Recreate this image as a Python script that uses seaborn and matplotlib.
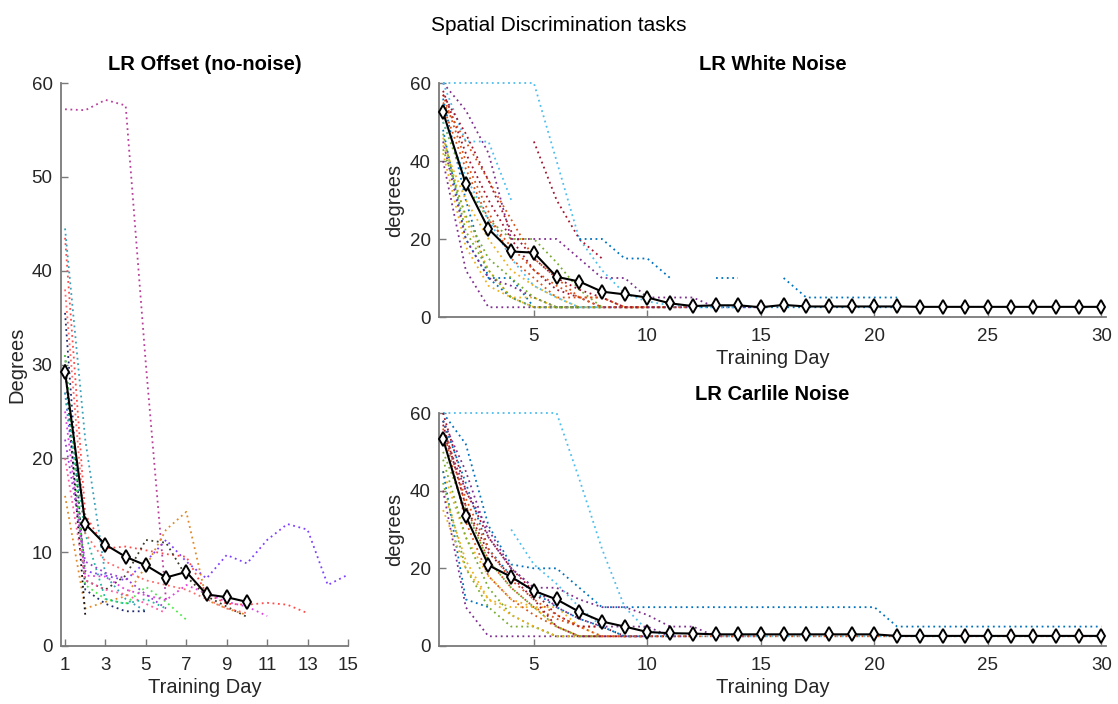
import numpy as np
import pandas as pd
import matplotlib
matplotlib.use("Agg")
import matplotlib.pyplot as plt
import seaborn as sns

nan = np.nan

# ---------------- LR Offset (no-noise) ----------------
offset_mean = [29.2, 13.0, 10.8, 9.5, 8.6, 7.3, 7.9, 5.5, 5.2, 4.7]
off_s01 = [57.2, 57.1, 58.2, 57.6, 30.0, 4.8]
off_s02 = [27.0, 8.0, 7.5, 7.0, 9.0, 11.3, 9.0, 7.2, 9.7, 8.8, 11.3, 13.0, 12.4, 6.5, 7.6]
off_s03 = [16.0, 4.0, 4.7, 5.3, 8.5, 12.4, 14.3, 4.9, 4.0, 3.3]
off_s04 = [43.5, 14.0, 10.4, 10.6, 10.2, 9.8, 9.5, 5.6, 4.5, 4.4, 4.6, 4.4, 3.5]
off_s05 = [44.5, 22.0, 7.5, 5.0, 3.7]
off_s06 = [35.5, 6.0, 4.5, 3.7, 3.7]
off_s07 = [31.0, 7.0, 6.0, 7.5, 11.3, 11.0, 7.4, 5.3, 4.2, 3.1]
off_s08 = [31.0, 6.5, 5.0, 4.5, 6.3, 4.7, 2.8]
off_s09 = [25.0, 7.5, 7.4, 6.0, 5.4, 4.9, 6.5, 5.6, 4.7, 4.2, 3.2]
off_s10 = [30.0, 3.3]
off_s11 = [20.0, 7.0, 6.0, 5.5, 4.5, 3.5]
off_s12 = [27.0, 12.0, 5.0, 4.5, 5.0, 4.0]
off_s13 = [38.0, 12.0, 9.0, 8.0, 7.0, 6.5, 6.0, 5.0, 4.0, 3.5]
off_s14 = [22.0, 9.0, 7.8, 7.2, 5.5, 4.0]
offset_subjects = [off_s01, off_s02, off_s03, off_s04, off_s05, off_s06, off_s07,
                   off_s08, off_s09, off_s10, off_s11, off_s12, off_s13, off_s14]
offset_colors = ["#b8409c", "#7f3fff", "#e08a2a", "#ff4a4a", "#3aa0b8", "#1f2a6e", "#3c3a28",
                 "#4ee84e", "#e040e0", "#111111", "#ff5aa0", "#20b8a0", "#ff6a6a", "#9a40d0"]

# ---------------- LR White Noise ----------------
white_mean = [52.5, 34.1, 22.6, 16.8, 16.5, 10.3, 9.1, 6.5, 5.8, 5.0, 3.5, 2.8, 3.0, 3.0, 2.5,
              3.1, 2.7, 2.7, 2.7, 2.7, 2.7, 2.6, 2.6, 2.6, 2.6, 2.6, 2.6, 2.6, 2.6, 2.6]
wn_s01 = [56, 30, 10, 10, 2.5, 2.5, 2.5, 2.5, 2.5, 2.5, 2.5, 2.5, 2.5, 2.5, 2.5, 2.5, 2.5, 2.5, 2.5, 2.5, 2.5]
wn_s02 = [57, 40, 27, 15, 10, 5, 5, 5, 2.5, 2.5, 2.5, 2.5]
wn_s03 = [46, 25, 12, 5, 5, 2.5, 2.5, 2.5, 2.5, 2.5]
wn_s04 = [60, 53, 42, 20, 20, 20, 15, 10, 10, 5, 5, 5, 2.5, 2.5, 2.5]
wn_s05 = [50, 34, 25, 20, 20, 14, 7, 2.5, 2.5, 2.5, 2.5]
wn_s06 = [60, 60, 60, 60, 60, 40, 20, 12, 6, 4, 3, 2.5, 2.5, 2.5]
wn_s07 = [58, 42, 30, 20, 12, 7, 5, 2.5, 2.5, 2.5]
wn_s08 = [48, 20, 10, 5, 2.5, 2.5, 2.5, 2.5]
wn_s09 = [55, 45, 35, 25, 15, 10, 5, 2.5, 2.5, 2.5, 2.5, 2.5]
wn_s10 = [42, 18, 8, 5, 2.5, 2.5, 2.5]
wn_s11 = [40, 12, 2.5, 2.5, 2.5, 2.5, 2.5, 2.5, 2.5, 2.5, 2.5, 2.5]
wn_s12 = [47, 22, 12, 5, 2.5, 2.5, 2.5, 2.5]
wn_s13 = [60, 45, 45, 30]
wn_s14 = [nan, nan, nan, nan, 45, 30, 20, 15]
wn_s15 = [nan, nan, nan, nan, nan, nan, 20, 20, 15, 15, 10, nan, 10, 10, nan, 10, 5, 5, 5, 5, 5]
wn_s16 = [54, 38, 25, 18, 12, 8, 5, 5, 2.5, 2.5]
wn_s17 = [44, 30, 20, 12, 8, 5, 2.5, 2.5]
wn_s18 = [45, 20, 10, 8, 5, 2.5, 2.5]
wn_s19 = [43, 26, 15, 10, 5, 2.5, 2.5]
wn_s20 = [50, 36, 25, 15, 8, 5, 2.5, 2.5]
wn_s21 = [57, 47, 35, 22, 15, 10, 7, 5, 2.5, 2.5, 2.5]
white_subjects = [wn_s01, wn_s02, wn_s03, wn_s04, wn_s05, wn_s06, wn_s07, wn_s08, wn_s09, wn_s10,
                  wn_s11, wn_s12, wn_s13, wn_s14, wn_s15, wn_s16, wn_s17, wn_s18, wn_s19, wn_s20, wn_s21]

# ---------------- LR Carlile Noise ----------------
carlile_mean = [53.3, 33.4, 20.8, 17.8, 14.2, 12.0, 8.8, 6.3, 5.0, 3.6, 3.3, 3.2, 3.0, 3.0, 3.0,
                3.0, 3.0, 3.0, 3.0, 3.0, 2.6, 2.6, 2.6, 2.6, 2.6, 2.6, 2.6, 2.6, 2.6, 2.6]
cn_s01 = [60, 52, 31, 21, 20, 20, 15, 10, 10, 10, 10, 10, 10, 10, 10, 10, 10, 10, 10, 10,
          5, 5, 5, 5, 5, 5, 5, 5, 5, 5]
cn_s02 = [58, 36, 22, 15, 10, 7, 5, 5, 2.5, 2.5, 2.5, 2.5]
cn_s03 = [45, 28, 18, 12, 10, 10, 5, 2.5, 2.5, 2.5]
cn_s04 = [58, 45, 28, 20, 15, 15, 12, 10, 10, 8, 5, 5, 2.5, 2.5, 2.5]
cn_s05 = [48, 28, 15, 8, 5, 2.5, 2.5, 2.5]
cn_s06 = [60, 60, 60, 60, 60, 60, 43, 25, 10, 4, 2.5, 2.5, 2.5, 2.5, 2.5, 2.5, 2.5, 2.5, 2.5, 2.5,
          2.5, 2.5, 2.5, 2.5, 2.5, 2.5, 2.5, 2.5, 2.5, 2.5]
cn_s07 = [60, 40, 28, 20, 14, 8, 5, 5, 2.5, 2.5, 2.5]
cn_s08 = [45, 12, 10]
cn_s09 = [56, 32, 18, 12, 8, 5, 2.5, 2.5, 2.5, 2.5]
cn_s10 = [40, 22, 12, 10, 10, 5, 2.5, 2.5]
cn_s11 = [40, 10, 2.5, 2.5, 2.5, 2.5, 2.5, 2.5, 2.5, 2.5]
cn_s12 = [42, 20, 10, 5, 5, 2.5, 2.5]
cn_s13 = [nan, nan, nan, 30, 21, 16, 10, 5, 2.5, 2.5]
cn_s14 = [57, 36, 24, 18, 12, 5, 2.5, 2.5, 2.5]
cn_s15 = [58, 42, 25, 18, 14, 10, 7, 5, 2.5, 2.5, 2.5]
cn_s16 = [55, 38, 25, 17, 12, 8, 5, 2.5, 2.5, 2.5, 2.5, 2.5, 2.5, 2.5, 2.5, 2.5, 2.5, 2.5, 2.5, 2.5,
          2.5, 2.5, 2.5, 2.5, 2.5, 2.5, 2.5, 2.5, 2.5, 2.5]
cn_s17 = [35, 20, 12, 8, 5, 2.5, 2.5]
cn_s18 = [55, 40, 30, 20, 15, 10, 7, 5, 5, 5, 2.5, 2.5]
cn_s19 = [50, 35, 22, 15, 10, 5, 2.5, 2.5]
carlile_subjects = [cn_s01, cn_s02, cn_s03, cn_s04, cn_s05, cn_s06, cn_s07, cn_s08, cn_s09, cn_s10,
                    cn_s11, cn_s12, cn_s13, cn_s14, cn_s15, cn_s16, cn_s17, cn_s18, cn_s19]

matlab_colors = ["#0072BD", "#D95319", "#EDB120", "#7E2F8E", "#77AC30", "#4DBEEE", "#A2142F"]

# ---------------- style ----------------
sns.set_style("ticks")
plt.rcParams["font.family"] = ["Liberation Sans", "DejaVu Sans"]
AX_GRAY = "#7a7a7a"
TXT = "#262626"

fig = plt.figure(figsize=(11.18, 7.04), dpi=100)
ax_l = fig.add_axes([61 / 1118, 58 / 704, 287 / 1118, 563 / 704])
ax_t = fig.add_axes([439 / 1118, 387 / 704, 667 / 1118, 234 / 704])
ax_b = fig.add_axes([439 / 1118, 58 / 704, 667 / 1118, 233 / 704])


def draw_subject(ax, vals, color):
    df = pd.DataFrame({"day": np.arange(1, len(vals) + 1), "val": vals})
    grp = df["val"].isna().cumsum()
    valid = df["val"].notna()
    for _, part in df[valid].groupby(grp[valid]):
        sns.lineplot(data=part, x="day", y="val", ax=ax, color=color,
                     linewidth=1.3, dashes=False, estimator=None, sort=False,
                     legend=False, clip_on=False)
        ax.lines[-1].set_dashes([1.0, 2.0])


def draw_mean(ax, vals):
    df = pd.DataFrame({"day": np.arange(1, len(vals) + 1), "val": vals})
    sns.lineplot(data=df, x="day", y="val", ax=ax, color="black", linewidth=1.5,
                 marker="d", markersize=7.5, markerfacecolor="white", markeredgecolor="black",
                 markeredgewidth=1.4, estimator=None, sort=False, legend=False, zorder=5,
                 clip_on=False)


for vals, c in zip(offset_subjects, offset_colors):
    draw_subject(ax_l, vals, c)
draw_mean(ax_l, offset_mean)

for i, vals in enumerate(white_subjects):
    draw_subject(ax_t, vals, matlab_colors[i % 7])
draw_mean(ax_t, white_mean)

for i, vals in enumerate(carlile_subjects):
    draw_subject(ax_b, vals, matlab_colors[i % 7])
draw_mean(ax_b, carlile_mean)


def style_axes(ax, title, ylabel, xlim, xticks, yticks):
    ax.set_xlim(*xlim)
    ax.set_ylim(0, 60)
    ax.set_xticks(xticks)
    ax.set_yticks(yticks)
    for s in ["top", "right"]:
        ax.spines[s].set_visible(False)
    for s in ["left", "bottom"]:
        ax.spines[s].set_color(AX_GRAY)
        ax.spines[s].set_linewidth(1.3)
    ax.tick_params(direction="in", length=5, width=1.0, color=AX_GRAY,
                   labelcolor=TXT, labelsize=13.5)
    ax.tick_params(axis="x", pad=8)
    ax.tick_params(axis="y", pad=6)
    ax.set_title(title, fontsize=14.5, fontweight="bold", color="black", pad=9)
    ax.set_ylabel(ylabel, fontsize=14.5, color=TXT, labelpad=4)
    ax.set_xlabel("Training Day", fontsize=14.5, color=TXT, labelpad=3)


style_axes(ax_l, "LR Offset (no-noise)", "Degrees", (0.8, 15),
           [1, 3, 5, 7, 9, 11, 13, 15], [0, 10, 20, 30, 40, 50, 60])
style_axes(ax_t, "LR White Noise", "degrees", (0.82, 30.2),
           [5, 10, 15, 20, 25, 30], [0, 20, 40, 60])
style_axes(ax_b, "LR Carlile Noise", "degrees", (0.82, 30.2),
           [5, 10, 15, 20, 25, 30], [0, 20, 40, 60])

fig.suptitle("Spatial Discrimination tasks", fontsize=15, color="black", y=0.977)

fig.savefig("out.png", dpi=100)
